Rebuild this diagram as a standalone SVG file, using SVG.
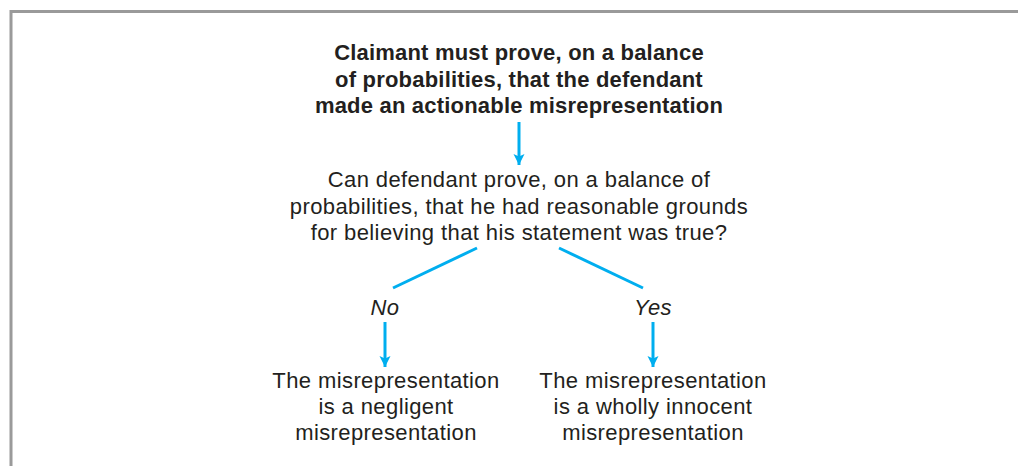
<svg xmlns="http://www.w3.org/2000/svg" width="1018" height="466" viewBox="0 0 1018 466">
<defs>
<style>
.t{font-family:"Liberation Sans",Arial,sans-serif;font-size:22px;letter-spacing:0.4px;fill:#231f20;text-anchor:middle}
.b{font-weight:bold;letter-spacing:0.2px}
.i{font-style:italic}
.c{stroke:#00aeef;stroke-width:3;fill:none}
</style>
<marker id="ah" markerWidth="12" markerHeight="12" refX="11" refY="6" orient="auto" markerUnits="userSpaceOnUse" viewBox="0 0 12 12">
<path d="M0,0.5 L11,6 L0,11.5 L2.5,6 Z" fill="#00aeef"/>
</marker>
</defs>
<rect width="1018" height="466" fill="#fff"/>
<path d="M11,480 V11.5 H1030" fill="none" stroke="#9a9a9a" stroke-width="3"/>
<g id="claim">
<text class="t b" x="519" y="60">Claimant must prove, on a balance</text>
<text class="t b" x="519" y="86.5">of probabilities, that the defendant</text>
<text class="t b" x="519" y="113">made an actionable misrepresentation</text>
</g>
<g id="question">
<text class="t" x="519" y="187">Can defendant prove, on a balance of</text>
<text class="t" x="519" y="213.5">probabilities, that he had reasonable grounds</text>
<text class="t" x="519" y="240">for believing that his statement was true?</text>
</g>
<g id="no">
<text class="t i" x="385" y="315">No</text>
</g>
<g id="yes">
<text class="t i" x="653" y="315">Yes</text>
</g>
<g id="negligent">
<text class="t" x="386" y="388">The misrepresentation</text>
<text class="t" x="386" y="414">is a negligent</text>
<text class="t" x="386" y="440">misrepresentation</text>
</g>
<g id="innocent">
<text class="t" x="653" y="388">The misrepresentation</text>
<text class="t" x="653" y="414">is a wholly innocent</text>
<text class="t" x="653" y="440">misrepresentation</text>
</g>
<g id="connectors">
<line class="c" x1="519" y1="122" x2="519" y2="165" marker-end="url(#ah)"/>
<line class="c" x1="477" y1="248" x2="393" y2="288"/>
<line class="c" x1="559" y1="248" x2="643" y2="288"/>
<line class="c" x1="385" y1="322" x2="385" y2="367" marker-end="url(#ah)"/>
<line class="c" x1="653" y1="322" x2="653" y2="367" marker-end="url(#ah)"/>
</g>
</svg>
